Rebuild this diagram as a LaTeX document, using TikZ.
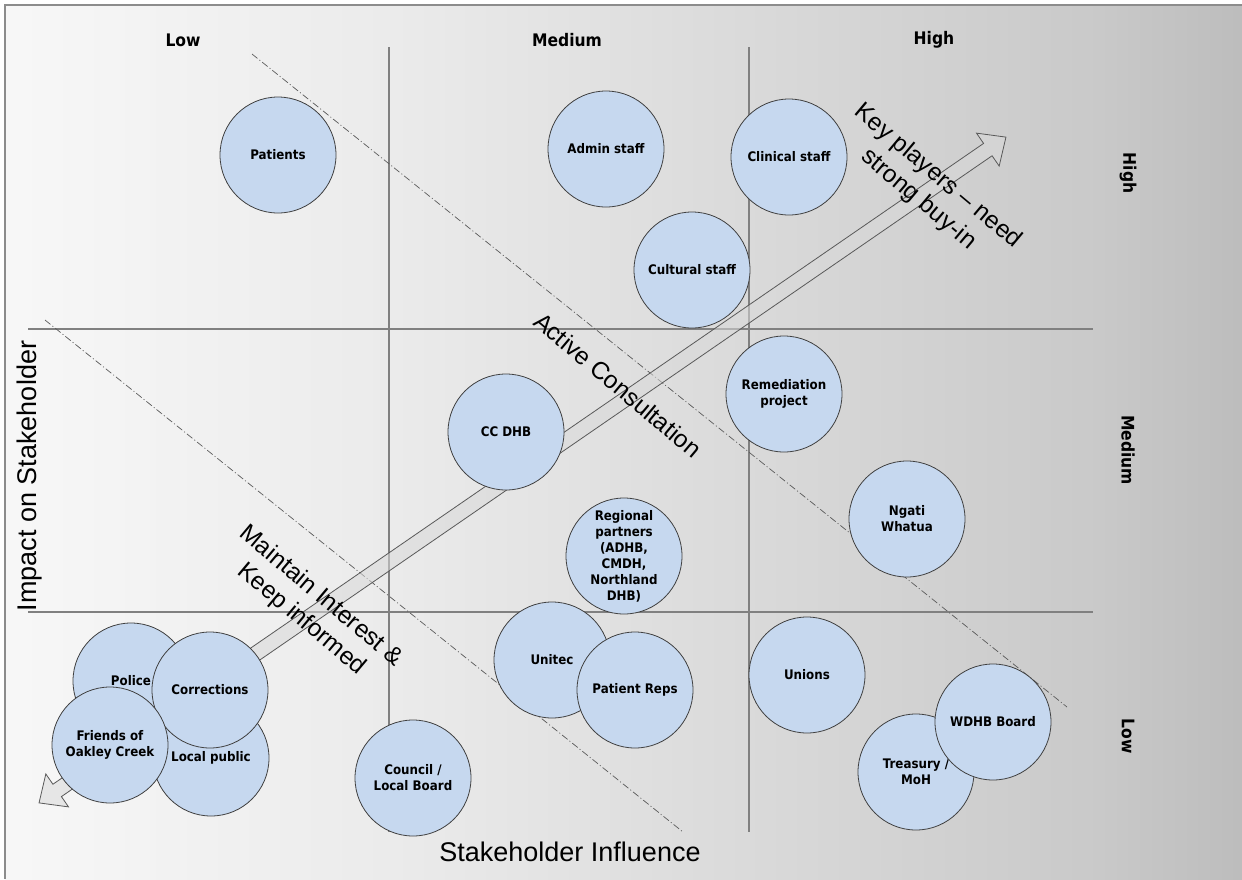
\documentclass[tikz,border=0pt]{standalone}
\usepackage{fontspec}
\setmainfont{DejaVu Sans}
\newfontfamily\arialfont{Liberation Sans}
\newfontfamily\headfont{DejaVu Sans Condensed Bold}
\newfontfamily\circfont{DejaVu Sans Condensed Bold}
\pgfdeclarehorizontalshading{bgshade}{100bp}{rgb(0bp)=(.97,.97,.97); rgb(25bp)=(.97,.97,.97); rgb(41bp)=(.92,.92,.92); rgb(57bp)=(.845,.845,.845); rgb(69bp)=(.79,.79,.79); rgb(75bp)=(.74,.74,.74); rgb(100bp)=(.74,.74,.74)}
\definecolor{circblue}{RGB}{198,216,239}
\definecolor{circedge}{RGB}{64,64,64}
\definecolor{gridgray}{RGB}{128,128,128}
\definecolor{dashgray}{RGB}{90,90,90}
\tikzset{
  stake/.style={circle, draw=circedge, fill=circblue, line width=0.8pt, minimum size=116pt, inner sep=0pt, align=center, font=\circfont\fontsize{13.2}{16}\selectfont},
  gridline/.style={draw=gridgray, line width=1.3pt},
  zoneline/.style={draw=dashgray, line width=0.7pt, dash pattern=on 7pt off 2.5pt on 1pt off 2.5pt},
  heading/.style={font=\headfont\fontsize{17.3}{20}\selectfont, inner sep=0pt},
  axislabel/.style={font=\arialfont\fontsize{27}{30}\selectfont, inner sep=0pt},
  zonelabel/.style={font=\arialfont\fontsize{24.5}{30}\selectfont, inner sep=0pt, align=center, rotate=-40},
  bigarrow/.style={draw=black!65, line width=0.8pt, fill=black!15, fill opacity=0.55}
}
\begin{document}
\begin{tikzpicture}[x=1pt,y=-1pt]
\useasboundingbox (0,0) rectangle (1242,879);
% background
\shade[shading=bgshade] (5,5) rectangle (1242,879);
\draw[draw=black!45, line width=1.5pt] (5,879) -- (5,5) -- (1242,5);
% grid
\draw[gridline] (389,47) -- (389,832);
\draw[gridline] (749,47) -- (749,832);
\draw[gridline] (28,329) -- (1093,329);
\draw[gridline] (28,612) -- (1093,612);
% zone lines
\coordinate (z1a) at (252,54);
\coordinate (z1b) at (1067,707);
\coordinate (z2a) at (45,320);
\coordinate (z2b) at (683,832);
\draw[zoneline] (z1a) -- (z1b);
\draw[zoneline] (z2a) -- (z2b);
% big double arrow
\coordinate (arrowmid) at (522.5,470);
\begin{scope}[shift={(arrowmid)}, rotate=34.55]
\draw[bigarrow] (-587,0) -- (-565,20) -- (-565,7.5) -- (565,7.5) -- (565,20) -- (587,0) -- (565,-20) -- (565,-7.5) -- (-565,-7.5) -- (-565,-20) -- cycle;
\end{scope}
% headings
\node[heading] (hlow) at (183,40) {Low};
\node[heading] (hmed) at (567,40) {Medium};
\node[heading] (hhigh) at (934,40) {High};
\node[heading, rotate=-90] (vhigh) at (1128,173) {High};
\node[heading, rotate=-90] (vmed) at (1128,450) {Medium};
\node[heading, rotate=-90] (vlow) at (1128,736) {Low};
\node[axislabel, rotate=90] (yaxis) at (30,476) {Impact on Stakeholder};
\node[axislabel] (xaxis) at (570,852) {Stakeholder Influence};
% zone labels
\node[zonelabel] (active) at (618,385) {Active Consultation};
\node[zonelabel] (keyp) at (928,188) {Key players – need\\strong buy-in};
\node[zonelabel] (maint) at (311,608) {Maintain Interest \&\\Keep informed};
% stakeholders
\node[stake] (patients) at (278,155) {Patients};
\node[stake] (admin) at (606,149) {Admin staff};
\node[stake] (clinical) at (789,157) {Clinical staff};
\node[stake] (cultural) at (692,270) {Cultural staff};
\node[stake] (remed) at (784,394) {Remediation\\project};
\node[stake] (ccdhb) at (506,432) {CC DHB};
\node[stake] (regional) at (624,556) {Regional\\partners\\(ADHB,\\CMDH,\\Northland\\DHB)};
\node[stake] (ngati) at (907,519) {Ngati\\Whatua};
\node[stake] (unitec) at (552,660) {Unitec};
\node[stake] (preps) at (635,690) {Patient Reps};
\node[stake] (unions) at (807,675) {Unions};
\node[stake] (treasury) at (916,772) {Treasury /\\MoH};
\node[stake] (wdhb) at (993,722) {WDHB Board};
\node[stake] (council) at (413,778) {Council /\\Local Board};
\node[stake] (police) at (131,681) {Police};
\node[stake] (localpub) at (211,758) {Local public};
\node[stake] (corrections) at (210,690) {Corrections};
\node[stake] (friends) at (110,745) {Friends of\\Oakley Creek};
\end{tikzpicture}
\end{document}
